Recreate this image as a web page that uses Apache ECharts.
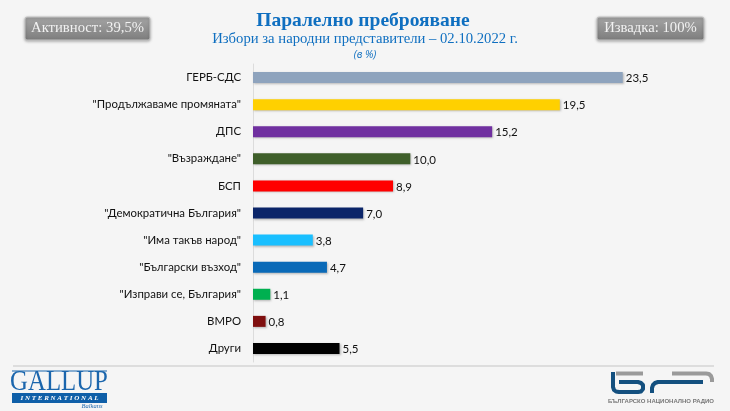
<!DOCTYPE html>
<html>
<head>
<meta charset="utf-8">
<style>
html, body { margin: 0; padding: 0; background: #f5f5f5; }
#chart { width: 730px; height: 411px; }
</style>
<script src="https://cdn.jsdelivr.net/npm/echarts@6/dist/echarts.min.js"></script>
</head>
<body>
<div id="chart"></div>
<script>
var categories = ['ГЕРБ-СДС', '"Продължаваме промяната"', 'ДПС', '"Възраждане"', 'БСП', '"Демократична България"', '"Има такъв народ"', '"Български възход"', '"Изправи се, България"', 'ВМРО', 'Други'];
var values = [23.5, 19.5, 15.2, 10.0, 8.9, 7.0, 3.8, 4.7, 1.1, 0.8, 5.5];
var colors = ['#8ea3bd', '#ffd000', '#7030a0', '#3f5f2a', '#ff0000', '#0b2569', '#19bfff', '#0a6ab8', '#00b050', '#7f0f0f', '#000000'];

var labelFont = 'Lato, "Open Sans", sans-serif';
var serifFont = '"Liberation Serif", serif';
var blue = '#0f6fc0';

function badge(x, w, text) {
    return {
        type: 'group',
        children: [
            {
                type: 'rect',
                shape: { x: x, y: 17, width: w, height: 23, r: 2 },
                style: {
                    fill: new echarts.graphic.LinearGradient(0, 0, 0, 1, [
                        { offset: 0, color: '#a6a6a6' },
                        { offset: 1, color: '#7d7d7d' }
                    ]),
                    stroke: '#c4c4c4', lineWidth: 1,
                    shadowBlur: 3, shadowColor: 'rgba(0,0,0,0.3)', shadowOffsetY: 1
                }
            },
            {
                type: 'text',
                style: {
                    x: x + w / 2, y: 28.5, text: text, fill: '#f2f2f2',
                    font: '14.7px ' + serifFont, align: 'center', verticalAlign: 'middle'
                }
            }
        ]
    };
}

function logoLine(points, color) {
    return { type: 'polyline', shape: { points: points }, style: { stroke: color, lineWidth: 4, fill: null, lineJoin: 'round' } };
}

var chart = echarts.init(document.getElementById('chart'));
chart.setOption({
    backgroundColor: '#f5f5f5',
    animation: false,
    grid: { left: 253, top: 64, width: 472, height: 298 },
    xAxis: { type: 'value', min: 0, max: 30, show: false },
    yAxis: {
        type: 'category',
        inverse: true,
        data: categories,
        axisLine: { show: true, lineStyle: { color: '#dcdcdc', width: 1 } },
        axisTick: { show: false },
        axisLabel: { color: '#111', fontFamily: labelFont, fontSize: 11.4, margin: 12 }
    },
    series: [{
        type: 'bar',
        barWidth: 11,
        data: values.map(function(v, i) {
            return { value: v, itemStyle: { color: colors[i] } };
        }),
        itemStyle: {
            shadowBlur: 2, shadowColor: 'rgba(0,0,0,0.25)', shadowOffsetX: 1, shadowOffsetY: 1
        },
        label: {
            show: true,
            position: 'right',
            distance: 3,
            offset: [0, 1],
            color: '#111',
            fontFamily: labelFont,
            fontSize: 11.5,
            formatter: function(p) { return p.value.toFixed(1).replace('.', ','); }
        }
    }],
    graphic: [
        badge(25, 125, 'Активност: 39,5%'),
        badge(597, 107, 'Извадка: 100%'),
        { type: 'text', style: { x: 363, y: 21, text: 'Паралелно преброяване', fill: blue, font: 'bold 19.5px ' + serifFont, align: 'center', verticalAlign: 'middle' } },
        { type: 'text', style: { x: 365, y: 39, text: 'Избори за народни представители – 02.10.2022 г.', fill: blue, font: '14.7px ' + serifFont, align: 'center', verticalAlign: 'middle' } },
        { type: 'text', style: { x: 365, y: 55, text: '(в %)', fill: blue, font: 'italic 10.5px "Open Sans", sans-serif', align: 'center', verticalAlign: 'middle' } },
        // footer rule
        { type: 'line', shape: { x1: 13, y1: 366, x2: 714, y2: 366 }, style: { stroke: '#d4d4d4', lineWidth: 1.5 } },
        // Gallup logo
        { type: 'line', shape: { x1: 12, y1: 371, x2: 107, y2: 371 }, style: { stroke: '#1b66ad', lineWidth: 1 } },
        { type: 'text', x: 59, y: 383, scaleX: 0.87, style: { x: 0, y: 0, text: 'GALLUP', fill: '#1b66ad', font: '28.5px ' + serifFont, align: 'center', verticalAlign: 'middle' } },
        { type: 'rect', shape: { x: 12, y: 393, width: 95, height: 10 }, style: { fill: '#0f5fa8' } },
        { type: 'text', style: { x: 59.5, y: 398.5, text: 'I N T E R N A T I O N A L', fill: '#fff', font: 'italic bold 7px ' + serifFont, align: 'center', verticalAlign: 'middle' } },
        { type: 'text', style: { x: 92, y: 406.5, text: 'Balkans', fill: '#1b66ad', font: 'italic 6.5px ' + serifFont, align: 'center', verticalAlign: 'middle' } },
        // BNR logo
        logoLine([[613, 372], [613, 387], [614, 390], [616, 391.5], [619, 392], [638, 392], [641, 391.5], [643, 389], [643, 385], [641, 383], [638, 382], [619, 382]], '#14507f'),
        logoLine([[616, 373.5], [643, 373.5]], '#9a9a9a'),
        logoLine([[652, 393], [652, 388], [653, 385], [655, 383], [658, 382], [703, 382]], '#14507f'),
        logoLine([[672, 373.5], [706, 373.5], [709, 374], [711, 376], [712, 379], [712, 382]], '#9a9a9a'),
        { type: 'text', style: { x: 661, y: 401, text: 'БЪЛГАРСКО НАЦИОНАЛНО РАДИО', fill: '#777', font: 'bold 6px "Liberation Sans", sans-serif', align: 'center', verticalAlign: 'middle' } }
    ]
});
</script>
</body>
</html>
